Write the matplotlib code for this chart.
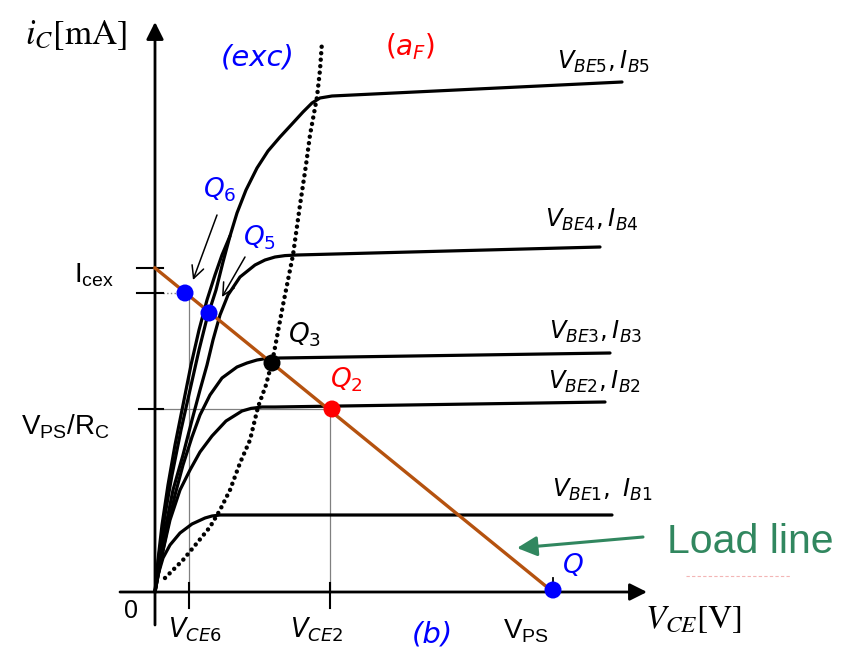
import matplotlib
matplotlib.use("Agg")
import matplotlib.pyplot as plt

plt.rcParams['mathtext.fontset'] = 'custom'
plt.rcParams['mathtext.rm'] = 'Liberation Sans'
plt.rcParams['mathtext.it'] = 'Liberation Sans:italic'

# output characteristics i_C(V_CE), V_CE in V, i_C in mA
ib5_v = [0, 0.2, 0.5, 0.85, 1.3, 1.75, 2.2, 2.6, 3.05, 3.4, 3.75, 4.1, 4.55, 5.1, 5.65,
         6.25, 6.85, 7.4, 7.85, 8.25, 8.85, 23.35]
ib5_i = [0, 1.85, 3.85, 5.85, 8.1, 10.1, 12.1, 13.7, 15.1, 16.5, 17.8, 18.95, 20.1, 21.2, 22.05,
         22.75, 23.4, 24.0, 24.45, 24.7, 24.8, 25.5]

ib6_v = [0, 0.15, 0.35, 0.65, 1.0, 1.4, 1.8, 2.2, 2.6, 3.0, 3.35, 3.75]
ib6_i = [0, 1.6, 3.35, 5.35, 7.35, 9.35, 11.35, 13.1, 14.6, 15.85, 16.85, 17.8]

ib4_v = [0, 0.25, 0.55, 0.9, 1.4, 1.85, 2.25, 2.6, 2.9, 3.25, 3.65, 4.25, 5.0, 5.5, 6.0, 6.5, 7.1, 22.25]
ib4_i = [0, 1.6, 3.35, 5.1, 6.85, 8.6, 10.1, 11.35, 12.6, 13.85, 14.85, 15.75, 16.35, 16.6, 16.75, 16.82, 16.85, 17.25]

ib3_v = [0, 0.25, 0.6, 1.0, 1.4, 1.85, 2.25, 2.75, 3.35, 4.1, 4.6, 5.1, 5.6, 6.25, 22.75]
ib3_i = [0, 1.35, 3.1, 4.85, 6.35, 7.75, 8.85, 9.85, 10.7, 11.25, 11.45, 11.6, 11.68, 11.7, 11.95]

ib2_v = [0, 0.35, 0.75, 1.25, 1.75, 2.25, 2.85, 3.55, 3.95, 4.35, 4.8, 5.35, 6.0, 22.5]
ib2_i = [0, 1.85, 3.6, 5.1, 6.1, 7.0, 7.8, 8.55, 8.8, 9.05, 9.18, 9.25, 9.25, 9.5]

ib1_v = [0, 0.15, 0.4, 0.75, 1.25, 1.85, 2.5, 2.85, 3.25, 3.85, 22.85]
ib1_i = [0, 0.85, 1.7, 2.35, 2.95, 3.4, 3.7, 3.8, 3.85, 3.85, 3.85]

# saturation / active boundary
sat_v = [0.5, 0.75, 1.4, 2.1, 2.75, 3.25, 3.75, 4.25, 4.75, 5.15, 5.55, 5.9, 6.4, 6.9, 7.25, 7.55, 7.75, 8.1, 8.25, 8.35]
sat_i = [0.7, 0.95, 1.6, 2.45, 3.25, 4.1, 5.1, 6.45, 7.6, 9.25, 10.35, 11.7, 14.35, 16.85, 19.35, 21.35, 22.85, 24.75, 26.1, 27.5]

curve_labels = [r'$\mathit{V_{BE5},I_{B5}}$', r'$\mathit{V_{BE4},I_{B4}}$', r'$\mathit{V_{BE3},I_{B3}}$',
                r'$\mathit{V_{BE2},I_{B2}}$', r'$\mathit{V_{BE1},\ I_{B1}}$']
curve_label_v = [22.4, 21.85, 22.05, 21.95, 22.35]
curve_label_i = [26.5, 18.6, 13.0, 10.5, 5.1]

# load line and operating points
VPS = 19.9
ICEX = 16.2
load_v = [0, VPS]
load_i = [ICEX, 0]
q_names = [r'$\mathit{Q_6}$', r'$\mathit{Q_5}$', r'$\mathit{Q_3}$', r'$\mathit{Q_2}$', r'$\mathit{Q}$']
q_v = [1.5, 2.7, 5.85, 8.85, VPS]
q_i = [14.95, 13.95, 11.45, 9.15, 0.1]
q_colors = ['blue', 'blue', 'black', 'red', 'blue']
q_label_v = [3.25, 5.2, 7.5, 9.55, 20.9]
q_label_i = [20.1, 17.7, 12.85, 10.6, 1.3]
VCE6 = 1.7
VCE2 = 8.75

fig = plt.figure(figsize=(8.46, 6.56), dpi=100)
ax = fig.add_axes([0, 0, 1, 1])
ax.set_xlim(-7.75, 34.55)
ax.set_ylim(-3.2, 29.6)
ax.axis('off')

# axes with arrow heads
arrow_kw = dict(arrowstyle='-|>', mutation_scale=26, lw=2.0, color='black',
                shrinkA=0, shrinkB=0)
ax.annotate('', xy=(0, 28.5), xytext=(0, -1.65), arrowprops=arrow_kw)
ax.annotate('', xy=(24.6, 0), xytext=(-1.75, 0), arrowprops=arrow_kw)

# guide lines and ticks
gray = '#808080'
ax.plot([0, q_v[3]], [q_i[3], q_i[3]], color=gray, lw=0.9, zorder=1)
ax.plot([VCE6, VCE6], [0, q_i[0]], color=gray, lw=0.9, zorder=1)
ax.plot([VCE2, VCE2], [0, q_i[3]], color=gray, lw=0.9, zorder=1)
ax.plot([0.4, q_v[0]], [q_i[0], q_i[0]], color=gray, lw=1.0, ls=':', zorder=1)
for lvl in [ICEX, q_i[0]]:
    ax.plot([-0.9, 0.4], [lvl, lvl], color='black', lw=1.5)
ax.plot([-0.8, 0.4], [q_i[3], q_i[3]], color='black', lw=1.5)
for v in [VCE6, VCE2]:
    ax.plot([v, v], [0.45, -0.8], color='black', lw=1.5)
ax.plot([VPS, VPS], [0, 0.7], color='black', lw=1.3)

# characteristic curves
for v, i in [(ib5_v, ib5_i), (ib6_v, ib6_i), (ib4_v, ib4_i), (ib3_v, ib3_i),
             (ib2_v, ib2_i), (ib1_v, ib1_i)]:
    ax.plot(v, i, color='black', lw=2.3, solid_capstyle='round',
            solid_joinstyle='round', zorder=3)
ax.plot(sat_v, sat_i, color='black', lw=3.2, linestyle=(0, (0.01, 1.45)),
        dash_capstyle='round', zorder=3)

for txt, x, y in zip(curve_labels, curve_label_v, curve_label_i):
    ax.text(x, y, txt, fontsize=17.5, ha='center', va='center',
            math_fontfamily='dejavusans')

# load line
ax.plot(load_v, load_i, color='#B5520F', lw=2.4, zorder=4)
ax.scatter(q_v, q_i, s=150, c=q_colors, zorder=5, linewidths=0)
for txt, x, y, c in zip(q_names, q_label_v, q_label_i, q_colors):
    ax.text(x, y, txt, fontsize=19, color=c, ha='center', va='center',
            math_fontfamily='dejavusans')

small_arrow = dict(arrowstyle='->', mutation_scale=22, lw=1.1, color='black',
                   shrinkA=0, shrinkB=0)
ax.annotate('', xy=(1.9, 15.6), xytext=(3.1, 18.85), arrowprops=small_arrow)
ax.annotate('', xy=(3.35, 14.75), xytext=(4.5, 16.75), arrowprops=small_arrow)

green = '#31875F'
ax.annotate('', xy=(18.1, 2.2), xytext=(24.4, 2.75),
            arrowprops=dict(arrowstyle='-|>', mutation_scale=30, lw=2.2,
                            color=green, shrinkA=0, shrinkB=0))
ax.text(29.75, 2.5, 'Load line', fontsize=29.5, color=green, family='Liberation Sans',
        ha='center', va='center')
ax.plot([26.55, 31.75], [0.8, 0.8], color='#F3B5B5', lw=0.8, ls=(0, (3, 2)))

# region and axis annotations
ax.text(5.15, 26.75, '(exc)', fontsize=21, style='italic', color='blue',
        ha='center', va='center')
ax.text(12.75, 27.25, r'$\mathit{(a_F)}$', fontsize=20, color='red',
        ha='center', va='center', math_fontfamily='dejavusans')
ax.text(13.85, -2.1, '(b)', fontsize=21, style='italic', color='blue',
        ha='center', va='center')

ax.text(-3.95, 27.85, r'$i_C[\mathrm{mA}]$', fontsize=25, ha='center', va='center',
        math_fontfamily='stix')
ax.text(26.95, -1.35, r'$V_{CE}[\mathrm{V}]$', fontsize=24, ha='center', va='center',
        math_fontfamily='stix')

ax.text(-3.05, 15.85, r'I$_{\rm cex}$', fontsize=20, family='Liberation Sans',
        ha='center', va='center')
ax.text(-4.5, 8.25, r'V$_{\rm PS}$/R$_{\rm C}$', fontsize=20, family='Liberation Sans',
        ha='center', va='center')
ax.text(-1.2, -0.95, '0', fontsize=18, family='Liberation Sans', ha='center', va='center')
ax.text(18.55, -1.95, r'V$_{\rm PS}$', fontsize=20, family='Liberation Sans',
        ha='center', va='center')
ax.text(2.0, -1.9, r'$\mathit{V_{CE6}}$', fontsize=18.5, ha='center', va='center',
        math_fontfamily='dejavusans')
ax.text(8.1, -1.9, r'$\mathit{V_{CE2}}$', fontsize=18.5, ha='center', va='center',
        math_fontfamily='dejavusans')

fig.savefig('out.png', dpi=100)
